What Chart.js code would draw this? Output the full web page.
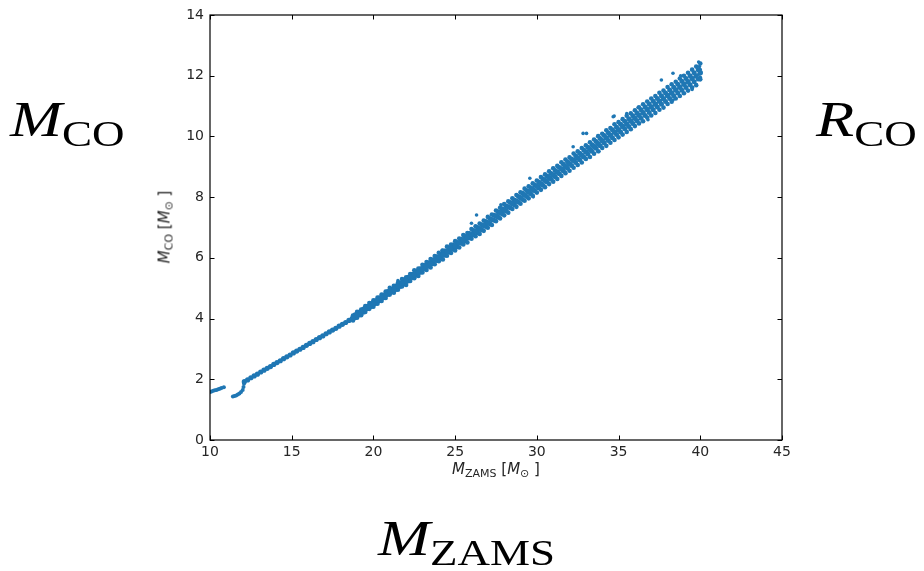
<!DOCTYPE html>
<html>
<head>
<meta charset="utf-8">
<script src="https://cdn.jsdelivr.net/npm/chart.js"></script>
<style>
  body { margin: 0; background: #fff; }
  #wrap { position: relative; width: 924px; height: 571px; }
  #chart { position: absolute; left: 0; top: 0; }
  .big { position: absolute; font-family: "Liberation Serif", serif; font-size: 50px; line-height: 1; color: #000; white-space: nowrap; transform: scaleX(1.25); transform-origin: left top; }
  .big i { font-style: italic; }
  .big sub { font-size: 36px; vertical-align: -10px; line-height: 1; }
  .ax { position: absolute; font-family: "DejaVu Sans", sans-serif; font-size: 15px; color: #262626; white-space: nowrap; line-height: 1; }
  .ax sub { font-size: 11px; vertical-align: -3px; }
</style>
</head>
<body>
<div id="wrap">
  <canvas id="chart" width="924" height="571"></canvas>
  <div class="big" style="left:10px; top:94px;"><i>M</i><sub>CO</sub></div>
  <div class="big" style="left:816px; top:94px;"><i>R</i><sub>CO</sub></div>
  <div class="big" style="left:378px; top:513px;"><i>M</i><sub>ZAMS</sub></div>
  <div class="ax" id="xlab" style="left:496px; top:462px; transform:translateX(-50%);"><i>M</i><sub>ZAMS</sub> [<i>M</i><sub>⊙</sub> ]</div>
  <div class="ax" id="ylab" style="left:166px; top:227px; transform:translate(-50%,-50%) rotate(-90deg);"><i>M</i><sub>CO</sub> [<i>M</i><sub>⊙</sub> ]</div>
</div>

<script>
// low-mass branch (left of the gap)
const segAX = [10.0, 10.1, 10.2, 10.3, 10.4, 10.5, 10.6, 10.7, 10.85];
const segAY = [1.58, 1.60, 1.62, 1.64, 1.65, 1.67, 1.69, 1.71, 1.74];

// short branch after the gap
const segBX = [11.4, 11.5, 11.6, 11.7, 11.8, 11.9, 12.0, 12.05, 12.08];
const segBY = [1.43, 1.45, 1.47, 1.50, 1.53, 1.58, 1.65, 1.75, 1.85];

// tight part 12 - 18.7
const coreX = [12.1, 12.3, 12.5, 12.7, 12.9, 13.1, 13.3, 13.5, 13.7, 13.9, 14.1, 14.3, 14.5, 14.7, 14.9, 15.1, 15.3,
  15.5, 15.7, 15.9, 16.1, 16.3, 16.5, 16.7, 16.9, 17.1, 17.3, 17.5, 17.7, 17.9, 18.1, 18.3, 18.5, 18.7];
const coreY = [1.92, 1.98, 2.05, 2.11, 2.17, 2.24, 2.30, 2.36, 2.42, 2.49, 2.55, 2.61, 2.68, 2.74, 2.80, 2.87, 2.93,
  2.99, 3.05, 3.12, 3.18, 3.24, 3.31, 3.37, 3.43, 3.50, 3.56, 3.62, 3.68, 3.75, 3.81, 3.87, 3.94, 4.00];

// scattered band 18.75 - 40 (rows: upper edge, middle, lower edge)
const bandX = [18.75, 19, 19.25, 19.5, 19.75, 20, 20.25, 20.5, 20.75, 21, 21.25, 21.5, 21.75, 22, 22.25, 22.5, 22.75,
  23, 23.25, 23.5, 23.75, 24, 24.25, 24.5, 24.75, 25, 25.25, 25.5, 25.75, 26, 26.25, 26.5, 26.75, 27, 27.25, 27.5,
  27.75, 28, 28.25, 28.5, 28.75, 29, 29.25, 29.5, 29.75, 30, 30.25, 30.5, 30.75, 31, 31.25, 31.5, 31.75, 32, 32.25,
  32.5, 32.75, 33, 33.25, 33.5, 33.75, 34, 34.25, 34.5, 34.75, 35, 35.25, 35.5, 35.75, 36, 36.25, 36.5, 36.75, 37,
  37.25, 37.5, 37.75, 38, 38.25, 38.5, 38.75, 39, 39.25, 39.5, 39.75, 40];
const bandMid = [4.02, 4.13, 4.20, 4.32, 4.41, 4.49, 4.60, 4.68, 4.79, 4.89,
  4.96, 5.07, 5.17, 5.24, 5.36, 5.45, 5.53, 5.64, 5.74, 5.81,
  5.93, 6.02, 6.10, 6.21, 6.31, 6.38, 6.50, 6.59, 6.67, 6.78,
  6.88, 6.95, 7.07, 7.16, 7.26, 7.38, 7.49, 7.58, 7.68, 7.79,
  7.87, 7.98, 8.07, 8.17, 8.25, 8.36, 8.44, 8.55, 8.64, 8.73,
  8.82, 8.93, 9.01, 9.10, 9.21, 9.29, 9.38, 9.49, 9.57, 9.67,
  9.76, 9.86, 9.95, 10.04, 10.14, 10.22, 10.33, 10.41, 10.51, 10.60,
  10.70, 10.78, 10.89, 10.97, 11.06, 11.16, 11.24, 11.35, 11.43, 11.53,
  11.62, 11.72, 11.80, 11.91, 11.99, 12.10];
const bandUp = [4.10, 4.22, 4.30, 4.41, 4.51, 4.60, 4.69, 4.79, 4.89, 5.01,
  5.08, 5.17, 5.30, 5.36, 5.47, 5.59, 5.65, 5.77, 5.86, 5.96,
  6.06, 6.17, 6.24, 6.37, 6.44, 6.55, 6.64, 6.75, 6.82, 6.95,
  7.04, 7.13, 7.23, 7.35, 7.43, 7.56, 7.65, 7.77, 7.86, 7.96,
  8.07, 8.16, 8.28, 8.36, 8.46, 8.55, 8.66, 8.75, 8.85, 8.95,
  9.03, 9.15, 9.24, 9.31, 9.44, 9.51, 9.62, 9.71, 9.81, 9.90,
  10.01, 10.09, 10.20, 10.28, 10.40, 10.47, 10.57, 10.68, 10.76, 10.86,
  10.96, 11.06, 11.15, 11.25, 11.33, 11.44, 11.51, 11.63, 11.72, 11.80,
  11.91, 12.00, 12.10, 12.20, 12.30, 12.40];
const bandLow = [3.94, 4.03, 4.11, 4.22, 4.32, 4.39, 4.49, 4.58, 4.68, 4.79,
  4.85, 4.95, 5.06, 5.11, 5.24, 5.33, 5.40, 5.52, 5.60, 5.68,
  5.79, 5.89, 5.95, 6.07, 6.16, 6.24, 6.34, 6.44, 6.51, 6.63,
  6.71, 6.79, 6.89, 6.99, 7.08, 7.21, 7.30, 7.40, 7.49, 7.61,
  7.68, 7.78, 7.88, 7.96, 8.05, 8.15, 8.24, 8.33, 8.43, 8.51,
  8.60, 8.70, 8.79, 8.87, 8.97, 9.06, 9.14, 9.26, 9.32, 9.43,
  9.51, 9.62, 9.69, 9.79, 9.88, 9.97, 10.06, 10.15, 10.24, 10.34,
  10.43, 10.50, 10.62, 10.69, 10.77, 10.88, 10.95, 11.07, 11.14, 11.25,
  11.33, 11.42, 11.51, 11.61, 11.69, 11.88];

// in-between rows, half a step to the right
const bandX2 = [18.875, 19.125, 19.375, 19.625, 19.875, 20.125, 20.375, 20.625, 20.875, 21.125, 21.375, 21.625,
  21.875, 22.125, 22.375, 22.625, 22.875, 23.125, 23.375, 23.625, 23.875, 24.125, 24.375, 24.625, 24.875, 25.125,
  25.375, 25.625, 25.875, 26.125, 26.375, 26.625, 26.875, 27.125, 27.375, 27.625, 27.875, 28.125, 28.375, 28.625,
  28.875, 29.125, 29.375, 29.625, 29.875, 30.125, 30.375, 30.625, 30.875, 31.125, 31.375, 31.625, 31.875, 32.125,
  32.375, 32.625, 32.875, 33.125, 33.375, 33.625, 33.875, 34.125, 34.375, 34.625, 34.875, 35.125, 35.375, 35.625,
  35.875, 36.125, 36.375, 36.625, 36.875, 37.125, 37.375, 37.625, 37.875, 38.125, 38.375, 38.625, 38.875, 39.125,
  39.375, 39.625, 39.875];
const bandHi2 = [4.13, 4.21, 4.31, 4.41, 4.50, 4.59, 4.69, 4.78, 4.89, 4.97,
  5.07, 5.18, 5.27, 5.36, 5.46, 5.55, 5.64, 5.75, 5.84, 5.93,
  6.04, 6.13, 6.23, 6.33, 6.42, 6.51, 6.61, 6.70, 6.80, 6.90,
  7.00, 7.09, 7.20, 7.30, 7.40, 7.52, 7.62, 7.71, 7.82, 7.91,
  8.02, 8.13, 8.22, 8.31, 8.40, 8.50, 8.60, 8.70, 8.78, 8.88,
  8.98, 9.08, 9.17, 9.26, 9.36, 9.45, 9.55, 9.64, 9.73, 9.83,
  9.93, 10.03, 10.12, 10.22, 10.30, 10.40, 10.50, 10.58, 10.68, 10.77,
  10.88, 10.97, 11.07, 11.16, 11.25, 11.34, 11.43, 11.53, 11.62, 11.72,
  11.82, 11.91, 12.00, 12.10, 12.20];
const bandLo2 = [4.03, 4.12, 4.21, 4.32, 4.40, 4.50, 4.59, 4.69, 4.79, 4.88,
  4.96, 5.06, 5.15, 5.24, 5.35, 5.43, 5.53, 5.63, 5.72, 5.81,
  5.91, 5.99, 6.09, 6.19, 6.28, 6.37, 6.48, 6.56, 6.66, 6.76,
  6.83, 6.93, 7.03, 7.12, 7.24, 7.35, 7.45, 7.54, 7.65, 7.75,
  7.83, 7.92, 8.02, 8.11, 8.21, 8.30, 8.39, 8.50, 8.59, 8.67,
  8.77, 8.86, 8.95, 9.04, 9.14, 9.23, 9.32, 9.42, 9.51, 9.61,
  9.69, 9.78, 9.87, 9.96, 10.06, 10.15, 10.25, 10.33, 10.43, 10.52,
  10.60, 10.69, 10.79, 10.88, 10.97, 11.06, 11.15, 11.25, 11.34, 11.43,
  11.52, 11.61, 11.70, 11.80, 11.89];

// stray points and the pile-up at 40
const strayX = [21.5, 24.2, 26.0, 26.31, 27.8, 29.57, 29.78, 31.0, 32.22, 32.83, 33.04, 33.8, 34.67, 34.73, 35.5, 36.2,
  36.8, 37.62, 38.33, 38.33, 38.8, 39.5, 39.9, 39.95, 40.0, 40.0, 39.92];
const strayY = [5.25, 6.25, 7.14, 7.41, 7.75, 8.62, 8.01, 8.95, 9.66, 10.10, 10.10, 9.50, 10.65, 10.67, 10.75, 10.95,
  10.55, 11.86, 12.08, 11.20, 12.00, 11.55, 12.45, 12.30, 12.20, 11.95, 12.05];

const blue = '#1f77b4';

function pts(xs, ys) {
  return xs.map((x, i) => ({ x: x, y: ys[i] }));
}
function ds(data, r) {
  return { data: data, pointRadius: r, pointHoverRadius: r, backgroundColor: blue, borderWidth: 0 };
}

// box with inward ticks on all four sides
const frame = {
  id: 'frame',
  afterDraw(chart) {
    const ctx = chart.ctx;
    const a = chart.chartArea;
    const xs = chart.scales.x, ys = chart.scales.y;
    const len = 4.5;
    ctx.save();
    ctx.strokeStyle = '#000';
    ctx.lineWidth = 1.2;
    ctx.strokeRect(a.left, a.top, a.right - a.left, a.bottom - a.top);
    ctx.lineWidth = 1;
    ctx.beginPath();
    xs.ticks.forEach(t => {
      const px = Math.round(xs.getPixelForValue(t.value)) + 0.5;
      ctx.moveTo(px, a.bottom); ctx.lineTo(px, a.bottom - len);
      ctx.moveTo(px, a.top); ctx.lineTo(px, a.top + len);
    });
    ys.ticks.forEach(t => {
      const py = Math.round(ys.getPixelForValue(t.value)) + 0.5;
      ctx.moveTo(a.left, py); ctx.lineTo(a.left + len, py);
      ctx.moveTo(a.right, py); ctx.lineTo(a.right - len, py);
    });
    ctx.stroke();
    ctx.restore();
  }
};

const tickFont = { family: 'DejaVu Sans', size: 14 };

const myChart = new Chart(document.getElementById('chart'), {
  type: 'scatter',
  data: {
    datasets: [
      ds(pts(segAX, segAY), 2),
      ds(pts(segBX, segBY), 2),
      ds(pts(coreX, coreY), 2.6),
      ds(pts(bandX, bandMid), 2.7),
      ds(pts(bandX, bandUp), 2.3),
      ds(pts(bandX, bandLow), 2.3),
      ds(pts(bandX2, bandHi2), 2.5),
      ds(pts(bandX2, bandLo2), 2.5),
      ds(pts(strayX, strayY), 1.8)
    ]
  },
  options: {
    responsive: false,
    animation: false,
    events: [],
    layout: { padding: { top: 15, right: 142, left: 0, bottom: 0 } },
    plugins: { legend: { display: false }, tooltip: { enabled: false } },
    scales: {
      x: {
        type: 'linear', min: 10, max: 45,
        ticks: { stepSize: 5, font: tickFont, color: '#262626', padding: 4 },
        grid: { display: false, drawTicks: false },
        border: { display: false },
        afterFit: s => { s.height = 131; }
      },
      y: {
        type: 'linear', min: 0, max: 14,
        ticks: { stepSize: 2, font: tickFont, color: '#262626', padding: 6 },
        grid: { display: false, drawTicks: false },
        border: { display: false },
        afterFit: s => { s.width = 210; }
      }
    }
  },
  plugins: [frame]
});
</script>
</body>
</html>
